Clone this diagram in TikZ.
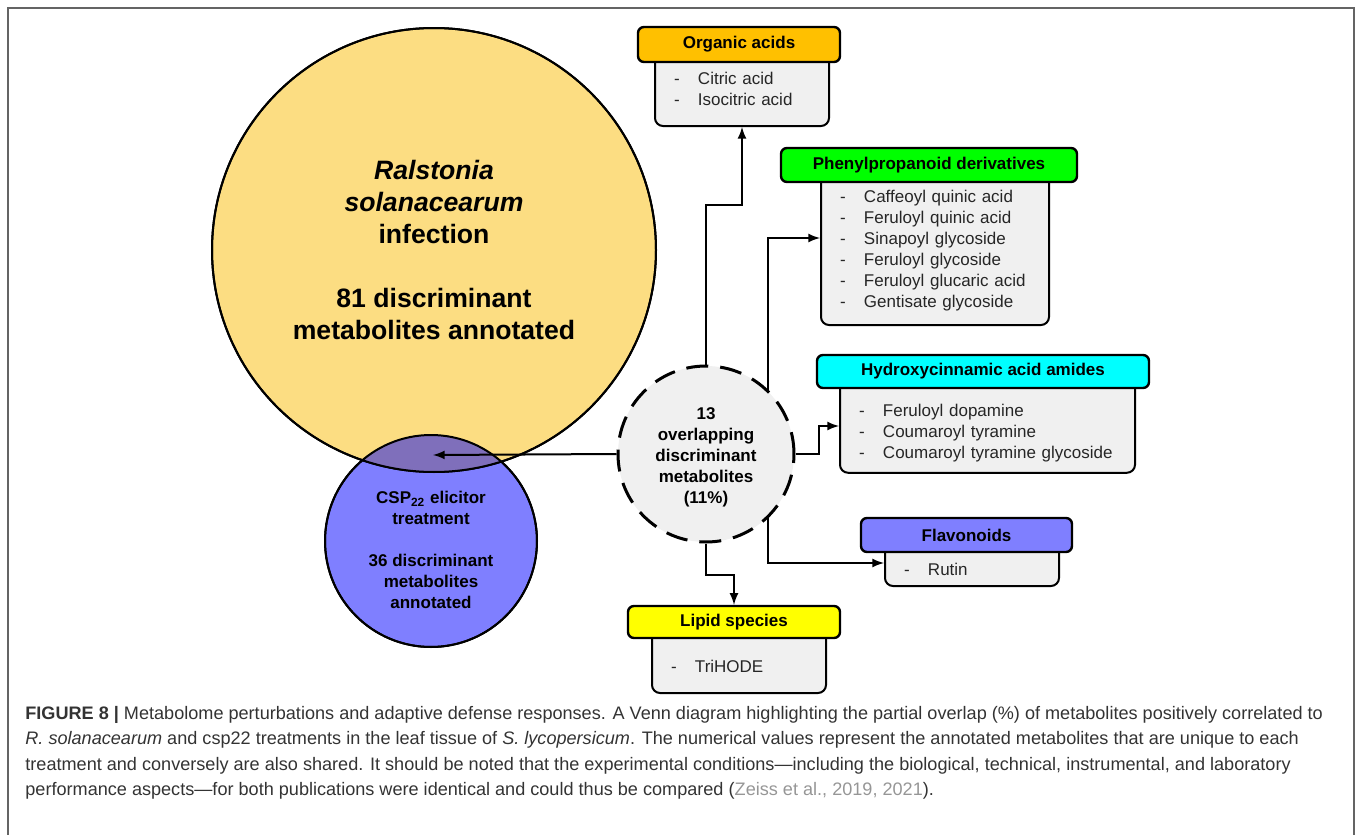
\documentclass[tikz,border=0pt]{standalone}
\usepackage{fontspec}
\setmainfont{Liberation Sans}
\usepackage{xcolor}
\definecolor{rsyellow}{RGB}{252,221,130}
\definecolor{cspblue}{RGB}{127,127,255}
\definecolor{overlapcol}{RGB}{127,111,187}
\definecolor{boxgray}{RGB}{240,240,240}
\definecolor{orgorange}{RGB}{255,192,0}
\definecolor{phgreen}{RGB}{0,255,0}
\definecolor{hycyan}{RGB}{0,255,255}
\definecolor{lpyellow}{RGB}{255,255,0}
\definecolor{captext}{RGB}{51,51,51}
\definecolor{citegray}{RGB}{150,150,150}
\definecolor{framegray}{RGB}{100,100,100}
\tikzset{
 catbox/.style={draw, line width=1.2pt, rounded corners=3pt, minimum height=17pt, inner sep=0pt, font=\fontsize{8.5}{10.5}\selectfont\bfseries},
 itembox/.style={draw, line width=1pt, rounded corners=4pt, fill=boxgray, inner xsep=9.5pt, inner ysep=0pt, align=left, text=black!85, font=\fontsize{8.5}{10.5}\selectfont},
 venn/.style={circle, draw, line width=1pt, align=center, inner sep=0pt, font=\fontsize{8.5}{10.5}\selectfont\bfseries},
 link/.style={line width=1pt, >=latex, ->},
}
\newcommand{\itm}[2][0pt]{\rule{0pt}{#1}\makebox[12pt][l]{-}#2}
\begin{document}
\begin{tikzpicture}[x=0.5pt, y=-0.5pt]
\useasboundingbox (0,0) rectangle (1357,835);
\draw[framegray, line width=1pt] (8,835) -- (8,8) -- (1354,8) -- (1354,835);
\node[venn, fill=cspblue, minimum size=106pt] (csp) at (431,541) {\rule{0pt}{15.2pt}CSP\textsubscript{22} elicitor\\treatment\\[10.5pt]36 discriminant\\metabolites\\annotated};
\node[venn, fill=rsyellow, minimum size=222pt, font=\fontsize{13.3}{16}\selectfont\bfseries] (rs) at (434,250) {\textit{Ralstonia}\\\textit{solanacearum}\\infection\\[16pt]81 discriminant\\metabolites annotated};
\begin{scope}
\clip (rs.center) circle[radius=111pt];
\fill[overlapcol] (csp.center) circle[radius=53pt];
\end{scope}
\draw[line width=1pt] (rs.center) circle[radius=111pt];
\draw[line width=1pt] (csp.center) circle[radius=53pt];
\node[venn, line width=1.5pt, dash pattern=on 11pt off 6pt, fill=boxgray, minimum size=88pt] (shared) at (706,454) {\rule{0pt}{9.2pt}13\\overlapping\\discriminant\\metabolites\\(11\%)};
\coordinate (ovl) at (433,455);

\node[itembox, text width=68pt, minimum height=40.5pt] (oabody) at (742,85.5) {\itm[9.2pt]{Citric acid}\\\itm{Isocitric acid}};
\node[catbox, fill=orgorange, minimum width=101pt, minimum height=17.5pt] (oahead) at (739,44.5) {Organic acids};
\node[itembox, text width=95pt, minimum height=80pt] (phbody) at (935,245) {\itm[12.2pt]{Caffeoyl quinic acid}\\\itm{Feruloyl quinic acid}\\\itm{Sinapoyl glycoside}\\\itm{Feruloyl glycoside}\\\itm{Feruloyl glucaric acid}\\\itm{Gentisate glycoside}};
\node[catbox, fill=phgreen, minimum width=148pt] (phhead) at (929,165) {Phenylpropanoid derivatives};
\node[itembox, text width=128.5pt, minimum height=50.75pt] (hybody) at (987.5,422) {\itm[17.2pt]{Feruloyl dopamine}\\\itm{Coumaroyl tyramine}\\\itm{Coumaroyl tyramine glycoside}};
\node[catbox, fill=hycyan, minimum width=166pt, minimum height=16.5pt] (hyhead) at (983,371.5) {Hydroxycinnamic acid amides};
\node[itembox, text width=68pt, minimum height=25.5pt] (flbody) at (972,560.5) {\itm[15.2pt]{Rutin}};
\node[catbox, fill=cspblue, minimum width=105.5pt] (flhead) at (966.5,535) {Flavonoids};
\node[itembox, text width=68pt, minimum height=35.5pt] (lpbody) at (739,657.5) {\itm[15.2pt]{TriHODE}};
\node[catbox, fill=lpyellow, minimum width=106pt, minimum height=16pt] (lphead) at (734,622) {Lipid species};

\draw[link] (shared.west) -- (ovl);
\draw[link] (shared.north) -- ++(0,-160) -| (oabody.south);
\draw[link] (shared.46) |- ([yshift=3.5pt]phbody.west);
\draw[link] (shared.east) -- ++(23,0) |- ([yshift=-2pt]hybody.west);
\draw[link] (shared.-46) |- ([yshift=-1.25pt]flbody.west);
\draw[link] (shared.south) -- ++(0,31) -| (lphead.north);

\node[anchor=north west, inner sep=0pt, align=left, text=captext, font=\fontsize{9.05}{12.7}\selectfont] (caption) at (25,706) {\textbf{FIGURE 8 |} Metabolome perturbations and adaptive defense responses. A Venn diagram highlighting the partial overlap (\%) of metabolites positively correlated to\\\textit{R. solanacearum} and csp22 treatments in the leaf tissue of \textit{S. lycopersicum}. The numerical values represent the annotated metabolites that are unique to each\\treatment and conversely are also shared. It should be noted that the experimental conditions---including the biological, technical, instrumental, and laboratory\\performance aspects---for both publications were identical and could thus be compared ({\color{citegray}Zeiss et al., 2019, 2021}).};
\end{tikzpicture}
\end{document}
